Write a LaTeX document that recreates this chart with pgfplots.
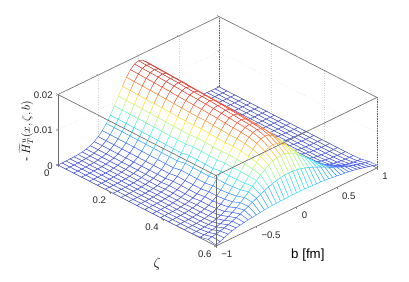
\documentclass[border=0pt]{standalone}
\usepackage{pgfplots}
\pgfplotsset{compat=1.18}
\usepackage{fontspec}
\setmainfont{Liberation Sans}
\begin{document}
\begin{tikzpicture}
\begin{axis}[
  x={(263.3pt,-135pt)}, y={(80.5pt,39pt)}, z={(0pt,3525pt)},
  xmin=0,xmax=0.6,ymin=-1,ymax=1,zmin=0,zmax=0.02,
  clip=false,
  3d box=complete,
  axis line style={draw=black!58,line width=0.65pt},
  grid=major,
  grid style={dotted,draw=black!18,line width=0.4pt},
  xtick={0,0.2,0.4,0.6},xticklabels={0,0.2,0.4,0.6},
  ytick={-1,-0.5,0,0.5,1},yticklabels={−1,−0.5,0,0.5,1},
  ztick={0,0.01,0.02},zticklabels={0,0.01,0.02},
  scaled z ticks=false,
  tick pos=left,
  tick style={draw=black!50,line width=0.4pt},
  major tick length=2pt,
  tick align=outside,
  ticklabel style={font=\fontsize{9.6}{11}\selectfont,text=black!85},
  xticklabel style={anchor=center,xshift=-9.5pt,yshift=-7.5pt},
  yticklabel style={anchor=west,xshift=0pt,yshift=-7.5pt},
  zticklabel style={anchor=east,xshift=0pt},
  xlabel={$\zeta$},
  xlabel style={at={(axis cs:0.56,-1.6,0)},anchor=center,font=\fontsize{15}{17}\selectfont},
  ylabel={b [fm]},
  ylabel style={at={(axis cs:0.804,-0.526,0)},anchor=center,font=\fontsize{13.3}{15}\selectfont},
  zlabel={- $\widetilde{H}_T^{u}(x,\zeta,b)$},
  zlabel style={at={(axis cs:-0.1886,-0.781,0)},anchor=center,rotate=0,font=\fontsize{12}{14}\selectfont},
  colormap={ljet}{rgb255(0)=(60,75,200) rgb255(1)=(60,85,250) rgb255(3)=(50,245,250) rgb255(5)=(250,250,60) rgb255(7)=(250,70,50) rgb255(8)=(185,45,35)},
  point meta min=0,point meta max=0.0185,
]
\addplot3[surf,shader=faceted,fill=white,faceted color=mapped color,line width=0.42pt,z buffer=none,mesh/rows=41,mesh/cols=21] coordinates {
(0,1,.00001)(.03,1,.00001)(.06,1,.00001)(.09,1,.00001)(.12,1,.00001)(.15,1,.00001)(.18,1,.00001)(.21,1,.00001)(.24,1,.00001)(.27,1,.00001)(.3,1,.00001)(.33,1,.00001)(.36,1,.00001)(.39,1,.00001)(.42,1,.00002)(.45,1,.00002)(.48,1,.00003)(.51,1,.00006)(.54,1,.00021)(.57,1,.00072)(.6,1,.0008)
(0,.95,.00001)(.03,.95,.00001)(.06,.95,.00001)(.09,.95,.00001)(.12,.95,.00001)(.15,.95,.00001)(.18,.95,.00001)(.21,.95,.00001)(.24,.95,.00001)(.27,.95,.00001)(.3,.95,.00002)(.33,.95,.00002)(.36,.95,.00002)(.39,.95,.00002)(.42,.95,.00003)(.45,.95,.00003)(.48,.95,.00005)(.51,.95,.00009)(.54,.95,.00031)(.57,.95,.00092)(.6,.95,.0012)
(0,.9,.00003)(.03,.9,.00003)(.06,.9,.00003)(.09,.9,.00003)(.12,.9,.00003)(.15,.9,.00003)(.18,.9,.00003)(.21,.9,.00003)(.24,.9,.00003)(.27,.9,.00003)(.3,.9,.00004)(.33,.9,.00004)(.36,.9,.00004)(.39,.9,.00004)(.42,.9,.00007)(.45,.9,.00006)(.48,.9,.00009)(.51,.9,.00016)(.54,.9,.00046)(.57,.9,.00115)(.6,.9,.0015)
(0,.85,.00006)(.03,.85,.00006)(.06,.85,.00005)(.09,.85,.00005)(.12,.85,.00005)(.15,.85,.00005)(.18,.85,.00005)(.21,.85,.00005)(.24,.85,.00005)(.27,.85,.00005)(.3,.85,.00009)(.33,.85,.00009)(.36,.85,.00008)(.39,.85,.00008)(.42,.85,.00012)(.45,.85,.00011)(.48,.85,.00016)(.51,.85,.00026)(.54,.85,.00064)(.57,.85,.00143)(.6,.85,.0018)
(0,.8,.00011)(.03,.8,.00011)(.06,.8,.00011)(.09,.8,.00011)(.12,.8,.00011)(.15,.8,.00011)(.18,.8,.00011)(.21,.8,.00011)(.24,.8,.00011)(.27,.8,.00011)(.3,.8,.00016)(.33,.8,.00015)(.36,.8,.00015)(.39,.8,.00015)(.42,.8,.0002)(.45,.8,.00019)(.48,.8,.00026)(.51,.8,.00041)(.54,.8,.0009)(.57,.8,.00175)(.6,.8,.0021)
(0,.75,.0002)(.03,.75,.0002)(.06,.75,.0002)(.09,.75,.0002)(.12,.75,.0002)(.15,.75,.0002)(.18,.75,.0002)(.21,.75,.00019)(.24,.75,.00019)(.27,.75,.00019)(.3,.75,.00028)(.33,.75,.00027)(.36,.75,.00027)(.39,.75,.00027)(.42,.75,.00035)(.45,.75,.00034)(.48,.75,.00043)(.51,.75,.00062)(.54,.75,.00124)(.57,.75,.00212)(.6,.75,.0024)
(0,.7,.00037)(.03,.7,.00037)(.06,.7,.00037)(.09,.7,.00036)(.12,.7,.00036)(.15,.7,.00036)(.18,.7,.00036)(.21,.7,.00035)(.24,.7,.00035)(.27,.7,.00035)(.3,.7,.00047)(.33,.7,.00046)(.36,.7,.00046)(.39,.7,.00045)(.42,.7,.00058)(.45,.7,.00057)(.48,.7,.00068)(.51,.7,.00094)(.54,.7,.00166)(.57,.7,.00253)(.6,.7,.0026)
(0,.65,.00063)(.03,.65,.00063)(.06,.65,.00062)(.09,.65,.00062)(.12,.65,.00062)(.15,.65,.00061)(.18,.65,.00061)(.21,.65,.0006)(.24,.65,.0006)(.27,.65,.0006)(.3,.65,.00076)(.33,.65,.00075)(.36,.65,.00074)(.39,.65,.00073)(.42,.65,.00091)(.45,.65,.00089)(.48,.65,.00105)(.51,.65,.00136)(.54,.65,.00219)(.57,.65,.00299)(.6,.65,.0028)
(0,.6,.00104)(.03,.6,.00103)(.06,.6,.00102)(.09,.6,.00102)(.12,.6,.00101)(.15,.6,.00101)(.18,.6,.001)(.21,.6,.00099)(.24,.6,.00099)(.27,.6,.00098)(.3,.6,.00121)(.33,.6,.0012)(.36,.6,.00118)(.39,.6,.00117)(.42,.6,.0014)(.45,.6,.00138)(.48,.6,.00157)(.51,.6,.00192)(.54,.6,.00283)(.57,.6,.00349)(.6,.6,.003)
(0,.55,.00165)(.03,.55,.00164)(.06,.55,.00163)(.09,.55,.00162)(.12,.55,.00161)(.15,.55,.0016)(.18,.55,.00158)(.21,.55,.00158)(.24,.55,.00157)(.27,.55,.00156)(.3,.55,.00185)(.33,.55,.00183)(.36,.55,.00181)(.39,.55,.00179)(.42,.55,.00208)(.45,.55,.00204)(.48,.55,.00225)(.51,.55,.00264)(.54,.55,.00358)(.57,.55,.00403)(.6,.55,.0031)
(0,.5,.0025)(.03,.5,.00248)(.06,.5,.00247)(.09,.5,.00246)(.12,.5,.00244)(.15,.5,.00243)(.18,.5,.0024)(.21,.5,.00239)(.24,.5,.00238)(.27,.5,.00236)(.3,.5,.00272)(.33,.5,.00268)(.36,.5,.00265)(.39,.5,.00262)(.42,.5,.00297)(.45,.5,.00292)(.48,.5,.00315)(.51,.5,.00354)(.54,.5,.00443)(.57,.5,.00458)(.6,.5,.0033)
(0,.45,.00366)(.03,.45,.00364)(.06,.45,.00362)(.09,.45,.0036)(.12,.45,.00358)(.15,.45,.00356)(.18,.45,.00352)(.21,.45,.0035)(.24,.45,.00348)(.27,.45,.00347)(.3,.45,.00388)(.33,.45,.00383)(.36,.45,.00379)(.39,.45,.00374)(.42,.45,.00411)(.45,.45,.00403)(.48,.45,.00426)(.51,.45,.00462)(.54,.45,.00538)(.57,.45,.00516)(.6,.45,.0034)
(0,.4,.00514)(.03,.4,.00512)(.06,.4,.00509)(.09,.4,.00506)(.12,.4,.00503)(.15,.4,.005)(.18,.4,.00495)(.21,.4,.00492)(.24,.4,.00489)(.27,.4,.00487)(.3,.4,.00529)(.33,.4,.00523)(.36,.4,.00517)(.39,.4,.00511)(.42,.4,.00551)(.45,.4,.00541)(.48,.4,.00558)(.51,.4,.00584)(.54,.4,.0064)(.57,.4,.00573)(.6,.4,.0036)
(0,.35,.00694)(.03,.35,.0069)(.06,.35,.00686)(.09,.35,.00683)(.12,.35,.00679)(.15,.35,.00675)(.18,.35,.00668)(.21,.35,.00664)(.24,.35,.0066)(.27,.35,.00656)(.3,.35,.00699)(.33,.35,.00691)(.36,.35,.00683)(.39,.35,.00675)(.42,.35,.00713)(.45,.35,.007)(.48,.35,.0071)(.51,.35,.00719)(.54,.35,.00747)(.57,.35,.00628)(.6,.35,.0037)
(0,.3,.00901)(.03,.3,.00896)(.06,.3,.00891)(.09,.3,.00886)(.12,.3,.00881)(.15,.3,.00877)(.18,.3,.00867)(.21,.3,.00862)(.24,.3,.00857)(.27,.3,.00852)(.3,.3,.00889)(.33,.3,.00879)(.36,.3,.00869)(.39,.3,.00858)(.42,.3,.00889)(.45,.3,.00873)(.48,.3,.00873)(.51,.3,.00862)(.54,.3,.00852)(.57,.3,.00681)(.6,.3,.0038)
(0,.25,.01123)(.03,.25,.01117)(.06,.25,.01111)(.09,.25,.01105)(.12,.25,.01099)(.15,.25,.01093)(.18,.25,.0108)(.21,.25,.01074)(.24,.25,.01068)(.27,.25,.01062)(.3,.25,.0109)(.33,.25,.01077)(.36,.25,.01065)(.39,.25,.01052)(.42,.25,.01074)(.45,.25,.01055)(.48,.25,.0104)(.51,.25,.01004)(.54,.25,.00953)(.57,.25,.00728)(.6,.25,.0038)
(0,.2,.01343)(.03,.2,.01336)(.06,.2,.01329)(.09,.2,.01321)(.12,.2,.01314)(.15,.2,.01307)(.18,.2,.01292)(.21,.2,.01285)(.24,.2,.01278)(.27,.2,.01271)(.3,.2,.01287)(.33,.2,.01272)(.36,.2,.01257)(.39,.2,.01242)(.42,.2,.01254)(.45,.2,.01231)(.48,.2,.01201)(.51,.2,.01137)(.54,.2,.01044)(.57,.2,.0077)(.6,.2,.0039)
(0,.15,.01545)(.03,.15,.01536)(.06,.15,.01528)(.09,.15,.0152)(.12,.15,.01511)(.15,.15,.01503)(.18,.15,.01486)(.21,.15,.01478)(.24,.15,.0147)(.27,.15,.01461)(.3,.15,.01465)(.33,.15,.01448)(.36,.15,.01431)(.39,.15,.01414)(.42,.15,.01414)(.45,.15,.01388)(.48,.15,.01342)(.51,.15,.01252)(.54,.15,.01122)(.57,.15,.00804)(.6,.15,.0039)
(0,.1,.01708)(.03,.1,.01698)(.06,.1,.01689)(.09,.1,.0168)(.12,.1,.01671)(.15,.1,.01661)(.18,.1,.01643)(.21,.1,.01634)(.24,.1,.01624)(.27,.1,.01615)(.3,.1,.01607)(.33,.1,.01589)(.36,.1,.0157)(.39,.1,.01551)(.42,.1,.01541)(.45,.1,.01513)(.48,.1,.01454)(.51,.1,.01343)(.54,.1,.01181)(.57,.1,.0083)(.6,.1,.004)
(0,.05,.01813)(.03,.05,.01803)(.06,.05,.01793)(.09,.05,.01784)(.12,.05,.01774)(.15,.05,.01764)(.18,.05,.01744)(.21,.05,.01735)(.24,.05,.01725)(.27,.05,.01715)(.3,.05,.01699)(.33,.05,.01679)(.36,.05,.0166)(.39,.05,.0164)(.42,.05,.01622)(.45,.05,.01592)(.48,.05,.01525)(.51,.05,.014)(.54,.05,.01218)(.57,.05,.00845)(.6,.05,.004)
(0,0,.0185)(.03,0,.0184)(.06,0,.0183)(.09,0,.0182)(.12,0,.0181)(.15,0,.018)(.18,0,.0178)(.21,0,.0177)(.24,0,.0176)(.27,0,.0175)(.3,0,.0173)(.33,0,.0171)(.36,0,.0169)(.39,0,.0167)(.42,0,.0165)(.45,0,.0162)(.48,0,.0155)(.51,0,.0142)(.54,0,.0123)(.57,0,.0085)(.6,0,.004)
(0,-.05,.01813)(.03,-.05,.01803)(.06,-.05,.01793)(.09,-.05,.01784)(.12,-.05,.01774)(.15,-.05,.01764)(.18,-.05,.01744)(.21,-.05,.01735)(.24,-.05,.01725)(.27,-.05,.01715)(.3,-.05,.01699)(.33,-.05,.01679)(.36,-.05,.0166)(.39,-.05,.0164)(.42,-.05,.01622)(.45,-.05,.01592)(.48,-.05,.01525)(.51,-.05,.014)(.54,-.05,.01218)(.57,-.05,.00845)(.6,-.05,.004)
(0,-.1,.01708)(.03,-.1,.01698)(.06,-.1,.01689)(.09,-.1,.0168)(.12,-.1,.01671)(.15,-.1,.01661)(.18,-.1,.01643)(.21,-.1,.01634)(.24,-.1,.01624)(.27,-.1,.01615)(.3,-.1,.01607)(.33,-.1,.01589)(.36,-.1,.0157)(.39,-.1,.01551)(.42,-.1,.01541)(.45,-.1,.01513)(.48,-.1,.01454)(.51,-.1,.01343)(.54,-.1,.01181)(.57,-.1,.0083)(.6,-.1,.004)
(0,-.15,.01545)(.03,-.15,.01536)(.06,-.15,.01528)(.09,-.15,.0152)(.12,-.15,.01511)(.15,-.15,.01503)(.18,-.15,.01486)(.21,-.15,.01478)(.24,-.15,.0147)(.27,-.15,.01461)(.3,-.15,.01465)(.33,-.15,.01448)(.36,-.15,.01431)(.39,-.15,.01414)(.42,-.15,.01414)(.45,-.15,.01388)(.48,-.15,.01342)(.51,-.15,.01252)(.54,-.15,.01122)(.57,-.15,.00804)(.6,-.15,.0039)
(0,-.2,.01343)(.03,-.2,.01336)(.06,-.2,.01329)(.09,-.2,.01321)(.12,-.2,.01314)(.15,-.2,.01307)(.18,-.2,.01292)(.21,-.2,.01285)(.24,-.2,.01278)(.27,-.2,.01271)(.3,-.2,.01287)(.33,-.2,.01272)(.36,-.2,.01257)(.39,-.2,.01242)(.42,-.2,.01254)(.45,-.2,.01231)(.48,-.2,.01201)(.51,-.2,.01137)(.54,-.2,.01044)(.57,-.2,.0077)(.6,-.2,.0039)
(0,-.25,.01123)(.03,-.25,.01117)(.06,-.25,.01111)(.09,-.25,.01105)(.12,-.25,.01099)(.15,-.25,.01093)(.18,-.25,.0108)(.21,-.25,.01074)(.24,-.25,.01068)(.27,-.25,.01062)(.3,-.25,.0109)(.33,-.25,.01077)(.36,-.25,.01065)(.39,-.25,.01052)(.42,-.25,.01074)(.45,-.25,.01055)(.48,-.25,.0104)(.51,-.25,.01004)(.54,-.25,.00953)(.57,-.25,.00728)(.6,-.25,.0038)
(0,-.3,.00901)(.03,-.3,.00896)(.06,-.3,.00891)(.09,-.3,.00886)(.12,-.3,.00881)(.15,-.3,.00877)(.18,-.3,.00867)(.21,-.3,.00862)(.24,-.3,.00857)(.27,-.3,.00852)(.3,-.3,.00889)(.33,-.3,.00879)(.36,-.3,.00869)(.39,-.3,.00858)(.42,-.3,.00889)(.45,-.3,.00873)(.48,-.3,.00873)(.51,-.3,.00862)(.54,-.3,.00852)(.57,-.3,.00681)(.6,-.3,.0038)
(0,-.35,.00694)(.03,-.35,.0069)(.06,-.35,.00686)(.09,-.35,.00683)(.12,-.35,.00679)(.15,-.35,.00675)(.18,-.35,.00668)(.21,-.35,.00664)(.24,-.35,.0066)(.27,-.35,.00656)(.3,-.35,.00699)(.33,-.35,.00691)(.36,-.35,.00683)(.39,-.35,.00675)(.42,-.35,.00713)(.45,-.35,.007)(.48,-.35,.0071)(.51,-.35,.00719)(.54,-.35,.00747)(.57,-.35,.00628)(.6,-.35,.0037)
(0,-.4,.00514)(.03,-.4,.00512)(.06,-.4,.00509)(.09,-.4,.00506)(.12,-.4,.00503)(.15,-.4,.005)(.18,-.4,.00495)(.21,-.4,.00492)(.24,-.4,.00489)(.27,-.4,.00487)(.3,-.4,.00529)(.33,-.4,.00523)(.36,-.4,.00517)(.39,-.4,.00511)(.42,-.4,.00551)(.45,-.4,.00541)(.48,-.4,.00558)(.51,-.4,.00584)(.54,-.4,.0064)(.57,-.4,.00573)(.6,-.4,.0036)
(0,-.45,.00366)(.03,-.45,.00364)(.06,-.45,.00362)(.09,-.45,.0036)(.12,-.45,.00358)(.15,-.45,.00356)(.18,-.45,.00352)(.21,-.45,.0035)(.24,-.45,.00348)(.27,-.45,.00347)(.3,-.45,.00388)(.33,-.45,.00383)(.36,-.45,.00379)(.39,-.45,.00374)(.42,-.45,.00411)(.45,-.45,.00403)(.48,-.45,.00426)(.51,-.45,.00462)(.54,-.45,.00538)(.57,-.45,.00516)(.6,-.45,.0034)
(0,-.5,.0025)(.03,-.5,.00248)(.06,-.5,.00247)(.09,-.5,.00246)(.12,-.5,.00244)(.15,-.5,.00243)(.18,-.5,.0024)(.21,-.5,.00239)(.24,-.5,.00238)(.27,-.5,.00236)(.3,-.5,.00272)(.33,-.5,.00268)(.36,-.5,.00265)(.39,-.5,.00262)(.42,-.5,.00297)(.45,-.5,.00292)(.48,-.5,.00315)(.51,-.5,.00354)(.54,-.5,.00443)(.57,-.5,.00458)(.6,-.5,.0033)
(0,-.55,.00165)(.03,-.55,.00164)(.06,-.55,.00163)(.09,-.55,.00162)(.12,-.55,.00161)(.15,-.55,.0016)(.18,-.55,.00158)(.21,-.55,.00158)(.24,-.55,.00157)(.27,-.55,.00156)(.3,-.55,.00185)(.33,-.55,.00183)(.36,-.55,.00181)(.39,-.55,.00179)(.42,-.55,.00208)(.45,-.55,.00204)(.48,-.55,.00225)(.51,-.55,.00264)(.54,-.55,.00358)(.57,-.55,.00403)(.6,-.55,.0031)
(0,-.6,.00104)(.03,-.6,.00103)(.06,-.6,.00102)(.09,-.6,.00102)(.12,-.6,.00101)(.15,-.6,.00101)(.18,-.6,.001)(.21,-.6,.00099)(.24,-.6,.00099)(.27,-.6,.00098)(.3,-.6,.00121)(.33,-.6,.0012)(.36,-.6,.00118)(.39,-.6,.00117)(.42,-.6,.0014)(.45,-.6,.00138)(.48,-.6,.00157)(.51,-.6,.00192)(.54,-.6,.00283)(.57,-.6,.00349)(.6,-.6,.003)
(0,-.65,.00063)(.03,-.65,.00063)(.06,-.65,.00062)(.09,-.65,.00062)(.12,-.65,.00062)(.15,-.65,.00061)(.18,-.65,.00061)(.21,-.65,.0006)(.24,-.65,.0006)(.27,-.65,.0006)(.3,-.65,.00076)(.33,-.65,.00075)(.36,-.65,.00074)(.39,-.65,.00073)(.42,-.65,.00091)(.45,-.65,.00089)(.48,-.65,.00105)(.51,-.65,.00136)(.54,-.65,.00219)(.57,-.65,.00299)(.6,-.65,.0028)
(0,-.7,.00037)(.03,-.7,.00037)(.06,-.7,.00037)(.09,-.7,.00036)(.12,-.7,.00036)(.15,-.7,.00036)(.18,-.7,.00036)(.21,-.7,.00035)(.24,-.7,.00035)(.27,-.7,.00035)(.3,-.7,.00047)(.33,-.7,.00046)(.36,-.7,.00046)(.39,-.7,.00045)(.42,-.7,.00058)(.45,-.7,.00057)(.48,-.7,.00068)(.51,-.7,.00094)(.54,-.7,.00166)(.57,-.7,.00253)(.6,-.7,.0026)
(0,-.75,.0002)(.03,-.75,.0002)(.06,-.75,.0002)(.09,-.75,.0002)(.12,-.75,.0002)(.15,-.75,.0002)(.18,-.75,.0002)(.21,-.75,.00019)(.24,-.75,.00019)(.27,-.75,.00019)(.3,-.75,.00028)(.33,-.75,.00027)(.36,-.75,.00027)(.39,-.75,.00027)(.42,-.75,.00035)(.45,-.75,.00034)(.48,-.75,.00043)(.51,-.75,.00062)(.54,-.75,.00124)(.57,-.75,.00212)(.6,-.75,.0024)
(0,-.8,.00011)(.03,-.8,.00011)(.06,-.8,.00011)(.09,-.8,.00011)(.12,-.8,.00011)(.15,-.8,.00011)(.18,-.8,.00011)(.21,-.8,.00011)(.24,-.8,.00011)(.27,-.8,.00011)(.3,-.8,.00016)(.33,-.8,.00015)(.36,-.8,.00015)(.39,-.8,.00015)(.42,-.8,.0002)(.45,-.8,.00019)(.48,-.8,.00026)(.51,-.8,.00041)(.54,-.8,.0009)(.57,-.8,.00175)(.6,-.8,.0021)
(0,-.85,.00006)(.03,-.85,.00006)(.06,-.85,.00005)(.09,-.85,.00005)(.12,-.85,.00005)(.15,-.85,.00005)(.18,-.85,.00005)(.21,-.85,.00005)(.24,-.85,.00005)(.27,-.85,.00005)(.3,-.85,.00009)(.33,-.85,.00009)(.36,-.85,.00008)(.39,-.85,.00008)(.42,-.85,.00012)(.45,-.85,.00011)(.48,-.85,.00016)(.51,-.85,.00026)(.54,-.85,.00064)(.57,-.85,.00143)(.6,-.85,.0017)
(0,-.9,.00003)(.03,-.9,.00003)(.06,-.9,.00003)(.09,-.9,.00003)(.12,-.9,.00003)(.15,-.9,.00003)(.18,-.9,.00003)(.21,-.9,.00003)(.24,-.9,.00003)(.27,-.9,.00003)(.3,-.9,.00004)(.33,-.9,.00004)(.36,-.9,.00004)(.39,-.9,.00004)(.42,-.9,.00007)(.45,-.9,.00006)(.48,-.9,.00009)(.51,-.9,.00016)(.54,-.9,.00046)(.57,-.9,.00115)(.6,-.9,.0012)
(0,-.95,.00001)(.03,-.95,.00001)(.06,-.95,.00001)(.09,-.95,.00001)(.12,-.95,.00001)(.15,-.95,.00001)(.18,-.95,.00001)(.21,-.95,.00001)(.24,-.95,.00001)(.27,-.95,.00001)(.3,-.95,.00002)(.33,-.95,.00002)(.36,-.95,.00002)(.39,-.95,.00002)(.42,-.95,.00003)(.45,-.95,.00003)(.48,-.95,.00005)(.51,-.95,.00009)(.54,-.95,.00031)(.57,-.95,.00092)(.6,-.95,.0007)
(0,-1,.00001)(.03,-1,.00001)(.06,-1,.00001)(.09,-1,.00001)(.12,-1,.00001)(.15,-1,.00001)(.18,-1,.00001)(.21,-1,.00001)(.24,-1,.00001)(.27,-1,.00001)(.3,-1,.00001)(.33,-1,.00001)(.36,-1,.00001)(.39,-1,.00001)(.42,-1,.00002)(.45,-1,.00002)(.48,-1,.00003)(.51,-1,.00006)(.54,-1,.00021)(.57,-1,.00072)(.6,-1,.0003)
};
\coordinate (O) at (axis cs:0,-1,0);
\end{axis}
\pgfresetboundingbox
\useasboundingbox ([shift={(-58pt,-116pt)}]O) rectangle ([shift={(351pt,165pt)}]O);
\end{tikzpicture}
\end{document}
